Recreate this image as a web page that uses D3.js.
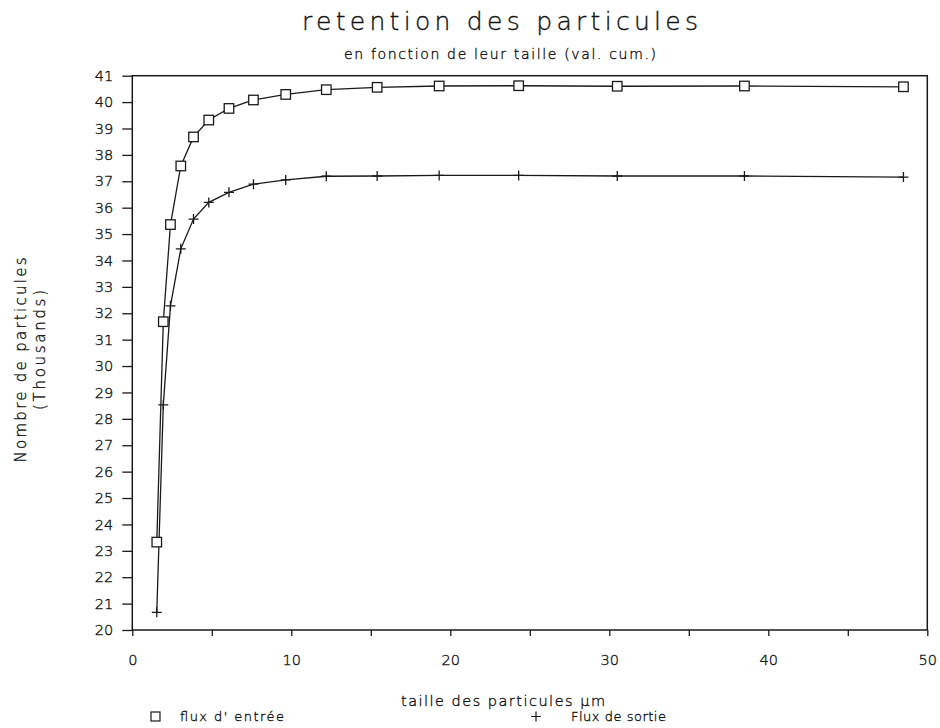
<!DOCTYPE html>
<html>
<head>
<meta charset="utf-8">
<script src="https://cdn.jsdelivr.net/npm/d3@7"></script>
<style>
  html, body { margin: 0; padding: 0; background: #fff; }
  svg { display: block; }
  text { font-family: "DejaVu Sans", "Open Sans", sans-serif; font-weight: 200;
         fill: #111; stroke: #111; stroke-width: 0.35px; }
</style>
</head>
<body>
<svg id="chart" width="940" height="728"></svg>
<script>
// Particle size classes (µm) and cumulative counts (thousands)
const sizes = [1.54, 1.95, 2.4, 3.05, 3.85, 4.81, 6.08, 7.62, 9.65, 12.2, 15.4, 19.3, 24.3, 30.5, 38.5, 48.5];
const fluxEntree = [23.33, 31.68, 35.36, 37.58, 38.68, 39.32, 39.76, 40.08, 40.29, 40.47, 40.56, 40.61, 40.62, 40.6, 40.61, 40.58];
const fluxSortie = [20.67, 28.53, 32.28, 34.44, 35.57, 36.2, 36.58, 36.89, 37.05, 37.19, 37.2, 37.22, 37.22, 37.2, 37.2, 37.16];
const xTicks = [0, 5, 10, 15, 20, 25, 30, 35, 40, 45, 50];
const yTicks = d3.range(20, 42, 1);

const svg = d3.select("#chart");
const ink = "#1a1a1a";

const x = d3.scaleLinear().domain([0, 50]).range([132.3, 927.3]);
const y = d3.scaleLinear().domain([20, 41]).range([630, 75.7]);

// Titles
svg.append("text")
  .attr("x", 500).attr("y", 30)
  .attr("text-anchor", "middle")
  .attr("font-size", 25)
  .attr("textLength", 396).attr("lengthAdjust", "spacing")
  .text("retention des particules");

svg.append("text")
  .attr("x", 500).attr("y", 59)
  .attr("text-anchor", "middle")
  .attr("font-size", 14)
  .attr("textLength", 312).attr("lengthAdjust", "spacing")
  .text("en fonction de leur taille (val. cum.)");

// Axes
function styleTicks(g) {
  g.select(".domain").remove();
  g.selectAll(".tick line").attr("stroke", ink).attr("stroke-width", 1.3);
  g.selectAll(".tick text").attr("font-size", 14.5)
    .style("font-family", "'DejaVu Sans', sans-serif").style("font-weight", 200)
    .style("fill", "#111").style("stroke", "#111").style("stroke-width", "0.35px");
}

const yAxis = d3.axisLeft(y).tickValues(yTicks).tickSize(10).tickPadding(9).tickFormat(d3.format("d"));
svg.append("g").attr("transform", `translate(${x(0)},0)`).call(yAxis).call(styleTicks);

const xAxis = d3.axisBottom(x).tickValues(xTicks).tickSize(6).tickPadding(19)
  .tickFormat(d => d % 10 === 0 ? d : "");
svg.append("g").attr("transform", `translate(0,${y(20)})`).call(xAxis).call(styleTicks);

// Frame
svg.append("rect")
  .attr("x", x(0)).attr("y", y(41))
  .attr("width", x(50) - x(0)).attr("height", y(20) - y(41))
  .attr("fill", "none").attr("stroke", ink).attr("stroke-width", 1.5);

// Axis titles
svg.append("text")
  .attr("transform", `translate(26,360) rotate(-90)`)
  .attr("text-anchor", "middle").attr("font-size", 15)
  .attr("textLength", 205).attr("lengthAdjust", "spacing")
  .text("Nombre de particules");
svg.append("text")
  .attr("transform", `translate(45,350) rotate(-90)`)
  .attr("text-anchor", "middle").attr("font-size", 15)
  .attr("textLength", 120).attr("lengthAdjust", "spacing")
  .text("(Thousands)");

svg.append("text")
  .attr("x", 503).attr("y", 706)
  .attr("text-anchor", "middle").attr("font-size", 14.5)
  .attr("textLength", 204).attr("lengthAdjust", "spacing")
  .text("taille des particules µm");

// Series lines
const line = d3.line().x(d => x(d[0])).y(d => y(d[1]));
const entree = sizes.map((s, i) => [s, fluxEntree[i]]);
const sortie = sizes.map((s, i) => [s, fluxSortie[i]]);

[entree, sortie].forEach(data => {
  svg.append("path").datum(data)
    .attr("d", line)
    .attr("fill", "none").attr("stroke", ink).attr("stroke-width", 1.3);
});

// Square markers
const sq = 9.5;
svg.append("g").selectAll("rect").data(entree).join("rect")
  .attr("x", d => x(d[0]) - sq / 2).attr("y", d => y(d[1]) - sq / 2)
  .attr("width", sq).attr("height", sq)
  .attr("fill", "#fff").attr("stroke", ink).attr("stroke-width", 1.3);

// Plus markers
const pl = 5;
const plus = svg.append("g").attr("stroke", ink).attr("stroke-width", 1.3);
plus.selectAll("path").data(sortie).join("path")
  .attr("d", d => {
    const cx = x(d[0]), cy = y(d[1]);
    return `M${cx - pl},${cy}H${cx + pl}M${cx},${cy - pl}V${cy + pl}`;
  });

// Legend
svg.append("rect")
  .attr("x", 151).attr("y", 712).attr("width", 9).attr("height", 9)
  .attr("fill", "none").attr("stroke", ink).attr("stroke-width", 1.2);
svg.append("text").attr("x", 180).attr("y", 721).attr("font-size", 13)
  .attr("textLength", 104).attr("lengthAdjust", "spacing")
  .text("flux d' entrée");
svg.append("path")
  .attr("d", "M531,716.5H541M536,711.5V721.5")
  .attr("stroke", ink).attr("stroke-width", 1.2);
svg.append("text").attr("x", 571).attr("y", 721).attr("font-size", 13)
  .attr("textLength", 95).attr("lengthAdjust", "spacing")
  .text("Flux de sortie");
</script>
</body>
</html>
